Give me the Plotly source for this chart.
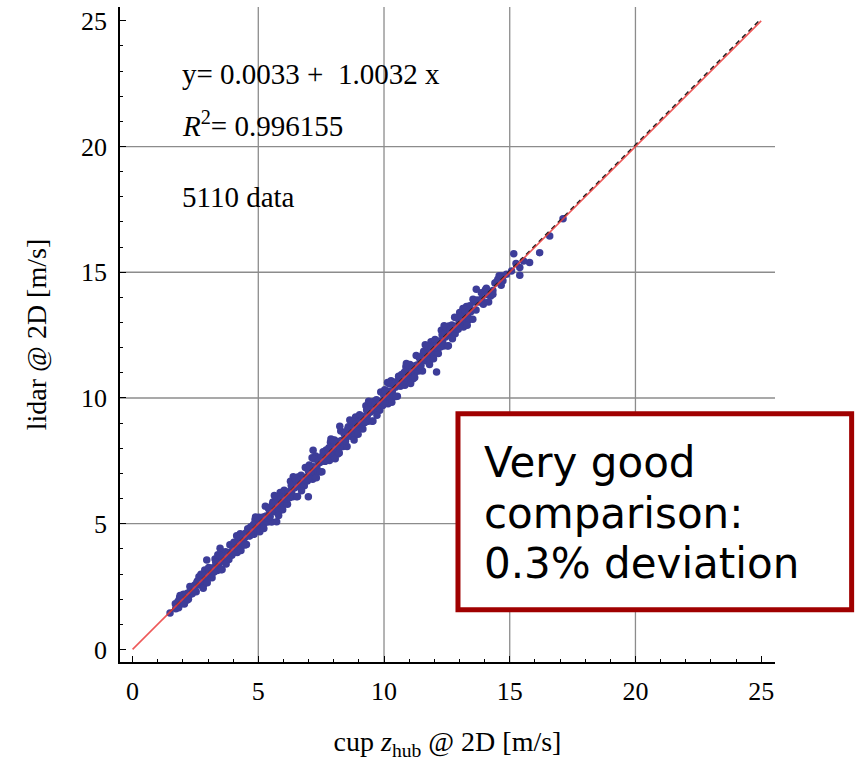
import plotly.graph_objects as go

# ---------------- data ----------------
cup_speed = [
    1.70, 1.74, 1.78, 1.83, 1.87, 1.91,
    1.95, 1.99, 2.03, 2.08, 2.12, 2.16,
    2.20, 2.24, 2.28, 2.33, 2.37, 2.41,
    2.45, 2.49, 2.53, 2.58, 2.62, 2.66,
    2.70, 2.74, 2.78, 2.83, 2.87, 2.91,
    2.95, 2.99, 3.03, 3.08, 3.12, 3.16,
    3.20, 3.24, 3.28, 3.33, 3.37, 3.41,
    3.45, 3.49, 3.53, 3.58, 3.62, 3.66,
    3.70, 3.74, 3.78, 3.83, 3.87, 3.91,
    3.95, 3.99, 4.03, 4.08, 4.12, 4.16,
    4.20, 4.24, 4.28, 4.33, 4.37, 4.41,
    4.45, 4.49, 4.53, 4.58, 4.62, 4.66,
    4.70, 4.74, 4.78, 4.83, 4.87, 4.91,
    4.95, 4.99, 5.03, 5.08, 5.12, 5.16,
    5.20, 5.24, 5.28, 5.33, 5.37, 5.41,
    5.45, 5.49, 5.53, 5.58, 5.62, 5.66,
    5.70, 5.74, 5.78, 5.83, 5.87, 5.91,
    5.95, 5.99, 6.03, 6.08, 6.12, 6.16,
    6.20, 6.24, 6.28, 6.33, 6.37, 6.41,
    6.45, 6.49, 6.53, 6.58, 6.62, 6.66,
    6.70, 6.74, 6.78, 6.83, 6.87, 6.91,
    6.95, 6.99, 7.03, 7.08, 7.12, 7.16,
    7.20, 7.24, 7.28, 7.33, 7.37, 7.41,
    7.45, 7.49, 7.53, 7.58, 7.62, 7.66,
    7.70, 7.74, 7.78, 7.83, 7.87, 7.91,
    7.95, 7.99, 8.03, 8.08, 8.12, 8.16,
    8.20, 8.24, 8.28, 8.33, 8.37, 8.41,
    8.45, 8.49, 8.53, 8.58, 8.62, 8.66,
    8.70, 8.74, 8.78, 8.83, 8.87, 8.91,
    8.95, 8.99, 9.03, 9.08, 9.12, 9.16,
    9.20, 9.24, 9.28, 9.33, 9.37, 9.41,
    9.45, 9.49, 9.53, 9.58, 9.62, 9.66,
    9.70, 9.74, 9.78, 9.83, 9.87, 9.91,
    9.95, 9.99, 10.03, 10.08, 10.12, 10.16,
    10.20, 10.24, 10.28, 10.33, 10.37, 10.41,
    10.45, 10.49, 10.53, 10.58, 10.62, 10.66,
    10.70, 10.74, 10.78, 10.83, 10.87, 10.91,
    10.95, 10.99, 11.03, 11.08, 11.12, 11.16,
    11.20, 11.24, 11.28, 11.33, 11.37, 11.41,
    11.45, 11.49, 11.53, 11.58, 11.62, 11.66,
    11.70, 11.74, 11.78, 11.83, 11.87, 11.91,
    11.95, 11.99, 12.03, 12.08, 12.12, 12.16,
    12.20, 12.24, 12.28, 12.33, 12.37, 12.41,
    12.45, 12.49, 12.53, 12.58, 12.62, 12.66,
    12.70, 12.74, 12.78, 12.83, 12.87, 12.91,
    12.95, 12.99, 13.03, 13.08, 13.12, 13.16,
    13.20, 13.24, 13.28, 13.33, 13.37, 13.41,
    13.45, 13.53, 13.58, 13.66,
    13.70, 13.78, 13.87, 13.91,
    13.95, 14.03, 14.12, 14.16,
    14.24, 14.33, 14.41,
    14.49, 14.58, 14.66,
    14.53, 14.67, 14.73, 14.87, 15.07, 15.16, 15.40, 15.40,
    15.79, 16.19, 16.59, 17.12, 13.67, 14.07, 14.33, 13.87,
    13.54, 13.41, 13.01, 12.81, 15.25, 15.55,
    12.09, 6.99, 7.18, 2.95, 1.49, 5.73, 8.24, 3.48,
    # filling points between the rows
    1.72, 1.81, 1.89, 1.97, 2.06, 2.14, 2.22, 2.31, 2.39,
    2.47, 2.56, 2.64, 2.72, 2.81, 2.89, 2.97, 3.06, 3.14,
    3.22, 3.31, 3.39, 3.47, 3.56, 3.64, 3.72, 3.81, 3.89,
    3.97, 4.06, 4.14, 4.22, 4.31, 4.39, 4.47, 4.56, 4.64,
    4.72, 4.81, 4.89, 4.97, 5.06, 5.14, 5.22, 5.31, 5.39,
    5.47, 5.56, 5.64, 5.72, 5.81, 5.89, 5.97, 6.06, 6.14,
    6.22, 6.31, 6.39, 6.47, 6.56, 6.64, 6.72, 6.81, 6.89,
    6.97, 7.06, 7.14, 7.22, 7.31, 7.39, 7.47, 7.56, 7.64,
    7.72, 7.81, 7.89, 7.97, 8.06, 8.14, 8.22, 8.31, 8.39,
    8.47, 8.56, 8.64, 8.72, 8.81, 8.89, 8.97, 9.06, 9.14,
    9.22, 9.31, 9.39, 9.47, 9.56, 9.64, 9.72, 9.81, 9.89,
    9.97, 10.06, 10.14, 10.22, 10.31, 10.39, 10.47, 10.56, 10.64,
    10.72, 10.81, 10.89, 10.97, 11.06, 11.14, 11.22, 11.31, 11.39,
    11.47, 11.56, 11.64, 11.72, 11.81, 11.89, 11.97, 12.06, 12.14,
    12.22, 12.31, 12.39, 12.47, 12.56, 12.64, 12.72, 12.81, 12.89,
    12.97, 13.06, 13.14, 13.22, 13.31, 13.39,
]

lidar_speed = [
    1.82, 1.67, 1.80, 1.66, 2.06, 1.89,
    1.82, 2.05, 2.19, 2.02, 2.12, 1.96,
    2.24, 2.13, 2.50, 2.29, 2.21, 2.51,
    2.44, 2.57, 2.29, 2.72, 2.67, 2.56,
    2.88, 2.63, 2.82, 2.58, 3.16, 2.87,
    2.75, 3.08, 3.26, 2.99, 3.12, 2.85,
    3.25, 3.08, 3.60, 3.28, 3.14, 3.55,
    3.43, 3.62, 3.17, 3.80, 3.69, 3.52,
    3.88, 3.63, 3.82, 3.58, 4.16, 3.87,
    3.75, 4.08, 4.26, 3.99, 4.12, 3.85,
    4.25, 4.08, 4.60, 4.28, 4.14, 4.55,
    4.43, 4.62, 4.17, 4.80, 4.69, 4.52,
    4.88, 4.63, 4.82, 4.58, 5.16, 4.87,
    4.75, 5.08, 5.26, 4.99, 5.12, 4.85,
    5.27, 5.03, 5.69, 5.26, 5.07, 5.59,
    5.43, 5.65, 5.07, 5.86, 5.71, 5.48,
    5.93, 5.60, 5.83, 5.51, 6.24, 5.86,
    5.70, 6.11, 6.33, 5.96, 6.12, 5.77,
    6.27, 6.03, 6.69, 6.26, 6.07, 6.59,
    6.43, 6.65, 6.07, 6.86, 6.71, 6.48,
    6.93, 6.60, 6.83, 6.51, 7.24, 6.86,
    6.70, 7.11, 7.33, 6.96, 7.12, 6.77,
    7.27, 7.03, 7.69, 7.26, 7.07, 7.59,
    7.43, 7.65, 7.07, 7.86, 7.71, 7.48,
    7.93, 7.60, 7.83, 7.51, 8.24, 7.86,
    7.70, 8.11, 8.33, 7.96, 8.12, 7.77,
    8.27, 8.03, 8.69, 8.26, 8.07, 8.59,
    8.43, 8.65, 8.07, 8.86, 8.71, 8.48,
    8.93, 8.60, 8.83, 8.51, 9.24, 8.86,
    8.70, 9.11, 9.33, 8.96, 9.12, 8.77,
    9.27, 9.03, 9.69, 9.26, 9.07, 9.59,
    9.43, 9.65, 9.07, 9.86, 9.71, 9.48,
    9.93, 9.60, 9.83, 9.51, 10.24, 9.86,
    9.70, 10.11, 10.33, 9.96, 10.12, 9.77,
    10.27, 10.03, 10.69, 10.26, 10.07, 10.59,
    10.43, 10.65, 10.07, 10.86, 10.71, 10.48,
    10.93, 10.60, 10.83, 10.51, 11.24, 10.86,
    10.70, 11.11, 11.33, 10.96, 11.12, 10.77,
    11.27, 11.03, 11.69, 11.26, 11.07, 11.59,
    11.43, 11.65, 11.07, 11.86, 11.71, 11.48,
    11.93, 11.60, 11.83, 11.51, 12.24, 11.86,
    11.70, 12.11, 12.33, 11.96, 12.12, 11.77,
    12.27, 12.03, 12.69, 12.26, 12.07, 12.59,
    12.43, 12.65, 12.07, 12.86, 12.71, 12.48,
    12.90, 12.62, 12.82, 12.55, 13.19, 12.87,
    12.73, 13.09, 13.29, 12.98, 13.12, 12.82,
    13.26, 13.06, 13.64, 13.27, 13.11, 13.57,
    13.43, 13.13, 13.82, 13.50,
    13.90, 13.82, 14.19, 13.87,
    13.73, 14.29, 14.12, 13.82,
    14.06, 14.27, 14.57,
    14.63, 14.86, 14.48,
    14.72, 14.86, 14.66, 14.92, 15.05, 15.74, 15.19, 14.88,
    15.39, 15.78, 16.44, 17.13, 14.32, 14.36, 14.13, 13.93,
    13.93, 13.67, 13.40, 13.21, 15.35, 15.45,
    11.03, 6.07, 7.92, 3.56, 1.45, 5.08, 8.88, 4.02,
    # filling points between the rows
    1.62, 1.92, 2.14, 2.15, 1.81, 2.19, 2.00, 2.31, 2.31,
    2.37, 2.67, 2.89, 2.99, 2.43, 2.96, 2.65, 3.06, 3.01,
    3.08, 3.47, 3.77, 3.74, 3.18, 3.71, 3.40, 3.81, 3.76,
    3.83, 4.22, 4.52, 4.49, 3.93, 4.46, 4.15, 4.56, 4.51,
    4.58, 4.97, 5.27, 5.24, 4.68, 5.21, 4.81, 5.31, 5.23,
    5.29, 5.77, 6.12, 6.07, 5.33, 5.98, 5.56, 6.06, 5.98,
    6.04, 6.52, 6.87, 6.82, 6.08, 6.73, 6.31, 6.81, 6.73,
    6.79, 7.27, 7.62, 7.57, 6.83, 7.48, 7.06, 7.56, 7.48,
    7.54, 8.02, 8.37, 8.32, 7.58, 8.23, 7.81, 8.31, 8.23,
    8.29, 8.77, 9.12, 9.07, 8.33, 8.98, 8.56, 9.06, 8.98,
    9.04, 9.52, 9.87, 9.82, 9.08, 9.73, 9.31, 9.81, 9.73,
    9.79, 10.27, 10.62, 10.57, 9.83, 10.48, 10.06, 10.56, 10.48,
    10.54, 11.02, 11.37, 11.32, 10.58, 11.23, 10.81, 11.31, 11.23,
    11.29, 11.77, 12.12, 12.07, 11.33, 11.98, 11.56, 12.06, 11.98,
    12.04, 12.52, 12.87, 12.82, 12.08, 12.73, 12.36, 12.81, 12.75,
    12.81, 13.24, 13.56, 13.52, 12.89, 13.47,
]

fit_intercept = 0.0033
fit_slope = 1.0032
r_squared = "0.996155"
n_data = 5110
fit_x = [1.5, 25.0]
identity_x = [0.0, 25.0]
major_ticks = [0, 5, 10, 15, 20, 25]
grid_vals = [5, 10, 15, 20]

# ---------------- figure ----------------
SERIF = "Liberation Serif, Times New Roman, serif"
MARK = "#3d3d99"

fig = go.Figure()

fig.add_trace(go.Scatter(
    x=cup_speed, y=lidar_speed, mode="markers",
    marker=dict(color=MARK, size=7.5, line=dict(width=0)),
    hoverinfo="x+y", showlegend=False,
))

fig.add_trace(go.Scatter(
    x=fit_x, y=[fit_intercept + fit_slope * v for v in fit_x],
    mode="lines", line=dict(color="#222222", width=1.6, dash="5px,4px"),
    showlegend=False, hoverinfo="skip",
))

fig.add_trace(go.Scatter(
    x=identity_x, y=identity_x, mode="lines",
    line=dict(color="rgba(235,60,60,0.85)", width=1.6),
    showlegend=False, hoverinfo="skip",
))

shapes = []
for g in grid_vals:
    shapes.append(dict(type="line", xref="x", yref="paper", x0=g, x1=g, y0=0, y1=1,
                       line=dict(color="#8c8c8c", width=1.3), layer="below"))
    shapes.append(dict(type="line", xref="paper", yref="y", x0=0, x1=1, y0=g, y1=g,
                       line=dict(color="#8c8c8c", width=1.3), layer="below"))

# highlighted comment box
shapes.append(dict(type="rect", xref="paper", yref="paper",
                   x0=0.516, x1=1.117, y0=0.0796, y1=0.379,
                   line=dict(color="#a00000", width=5), fillcolor="white", layer="above"))

fig.update_layout(shapes=shapes)

axis_common = dict(
    showgrid=False, zeroline=False, showline=True, linecolor="black", linewidth=1.6,
    ticks="inside", ticklen=6, tickwidth=1.2, tickcolor="black",
    tickvals=major_ticks, ticktext=[str(v) for v in major_ticks],
    tickfont=dict(family=SERIF, size=26, color="black"),
    minor=dict(ticks="inside", ticklen=3.5, tickwidth=1, tickcolor="black", dtick=1, showgrid=False),
    mirror=False, fixedrange=True,
)

fig.update_xaxes(range=[-0.5, 25.55], ticklabelstandoff=5,
                 title=dict(text="cup <i>z</i><sub>hub</sub> @ 2D [m/s]",
                            font=dict(family=SERIF, size=28, color="black"), standoff=28),
                 **axis_common)
fig.update_yaxes(range=[-0.5, 25.55], ticklabelstandoff=6,
                 title=dict(text="lidar @ 2D [m/s]",
                            font=dict(family=SERIF, size=28, color="black"), standoff=26),
                 **axis_common)

ann_font = dict(family=SERIF, size=29, color="black")
annotations = [
    dict(x=1.89, y=22.89, xref="x", yref="y", xanchor="left", yanchor="middle",
         text=f"y= {fit_intercept:.4f} + &nbsp;{fit_slope:.4f} x", showarrow=False, font=ann_font),
    dict(x=1.89, y=20.9, xref="x", yref="y", xanchor="left", yanchor="middle",
         text=f"<i>R</i><sup>2</sup>= {r_squared}", showarrow=False, font=ann_font),
    dict(x=1.89, y=18.0, xref="x", yref="y", xanchor="left", yanchor="middle",
         text=f"{n_data} data", showarrow=False, font=ann_font),
]
box_font = dict(family="DejaVu Sans, Verdana, sans-serif", size=42, color="black")
for txt, py in [("Very good", 0.3044), ("comparison:", 0.2268), ("0.3% deviation", 0.1507)]:
    annotations.append(dict(x=0.5527, y=py, xref="paper", yref="paper", xanchor="left",
                            yanchor="middle", text=txt, showarrow=False, font=box_font))
fig.update_layout(annotations=annotations)

fig.update_layout(
    width=857, height=761,
    margin=dict(l=120, r=82, t=7, b=97),
    paper_bgcolor="white", plot_bgcolor="white",
    showlegend=False,
)

fig.write_html("out.html")
